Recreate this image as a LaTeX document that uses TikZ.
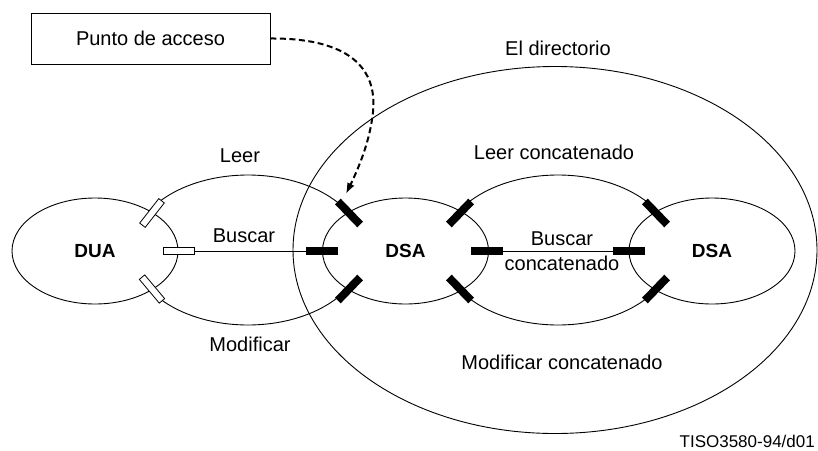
\documentclass[tikz,border=0pt]{standalone}
\usepackage{fontspec}
\setmainfont{Liberation Sans}
\usetikzlibrary{shapes.geometric,arrows.meta}
\begin{document}
\begin{tikzpicture}[x=1pt,y=-1pt,
  every node/.style={font=\fontsize{20}{24}\selectfont},
  lbl/.style={anchor=base, inner sep=0pt},
  ent/.style={draw, ellipse, line width=0.9pt, minimum width=166pt, minimum height=106pt, inner sep=0pt, font=\fontsize{19}{23}\selectfont\bfseries},
  rel/.style={draw, ellipse, line width=0.9pt, minimum width=232pt, minimum height=150pt, inner sep=0pt},
  portw/.style={draw, fill=white, line width=0.8pt, rectangle, minimum width=31pt, minimum height=7pt, inner sep=0pt},
  portb/.style={fill=black, rectangle, minimum width=32pt, minimum height=8pt, inner sep=0pt},
  conn/.style={line width=0.8pt},
  access/.style={line width=2pt, dash pattern=on 6pt off 3.5pt, -{Latex[length=11pt,width=8pt]}}
  ]
\useasboundingbox (0,0) rectangle (818,450);

% big directory ellipse
\node[draw, ellipse, line width=0.9pt, minimum width=524pt, minimum height=367pt, inner sep=0pt] (dir) at (555,250) {};

% relation ellipses, clipped outside the entity ellipses
\begin{scope}[even odd rule]
  \clip (-10,-10) rectangle (830,460)
    (95,251) ellipse [x radius=83pt, y radius=53pt]
    (405.5,251) ellipse [x radius=83pt, y radius=53pt]
    (712,251) ellipse [x radius=83pt, y radius=53pt];
  \node[rel] (rel1) at (248,250) {};
  \node[rel] (rel2) at (558,250) {};
\end{scope}

% entities
\node[ent] (dua) at (95,251) {DUA};
\node[ent] (dsa1) at (405.5,251) {DSA};
\node[ent] (dsa2) at (712,251) {DSA};

% access point box
\node[draw, line width=0.9pt, minimum width=239pt, minimum height=51pt, inner sep=0pt] (pa) at (150.5,38.5) {Punto de acceso};

% ports on DUA
\node[portw, rotate=52] (u1) at (152,213) {};
\node[portw] (u2) at (178.5,251) {};
\node[portw, rotate=-50] (u3) at (152,289) {};
% ports on DSA 1
\node[portb, rotate=-46] (a1) at (349,213) {};
\node[portb] (a2) at (322,251) {};
\node[portb, rotate=46] (a3) at (349,289) {};
\node[portb, rotate=46] (a4) at (460,213) {};
\node[portb] (a5) at (487,251) {};
\node[portb, rotate=-46] (a6) at (460,289) {};
% ports on DSA 2
\node[portb, rotate=-46] (b1) at (656,213) {};
\node[portb] (b2) at (629,251) {};
\node[portb, rotate=46] (b3) at (656,289) {};

% Buscar lines
\draw[conn] (u2.east) -- (a2.west);
\draw[conn] (a5.east) -- (b2.west);

% access arrow
\coordinate (apt) at (346,194);
\draw[access] (pa.east) .. controls (340,38) and (378,62) .. (373,112) .. controls (370,140) and (360,165) .. (apt);

% labels
\node[lbl] (l1) at (558,55) {El directorio};
\node[lbl] (l2) at (240,162) {Leer};
\node[lbl] (l3) at (554,159) {Leer concatenado};
\node[lbl] (l4) at (244,242) {Buscar};
\node[lbl] (l5) at (562,245) {Buscar};
\node[lbl] (l6) at (562,270) {concatenado};
\node[lbl] (l7) at (250,351) {Modificar};
\node[lbl] (l8) at (562,369) {Modificar concatenado};
\node[lbl, anchor=base east, font=\fontsize{17}{21}\selectfont] (l9) at (815,447) {TISO3580-94/d01};
\end{tikzpicture}
\end{document}
